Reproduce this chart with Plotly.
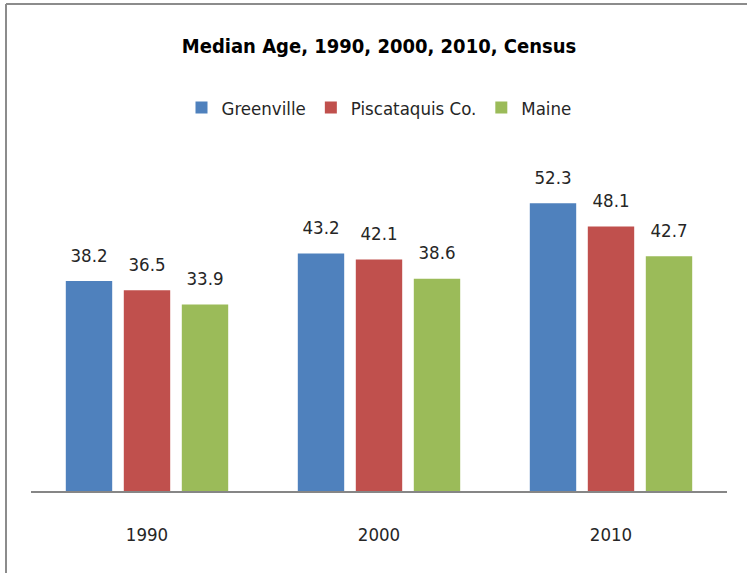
import plotly.graph_objects as go

years = ["1990", "2000", "2010"]
greenville = [38.2, 43.2, 52.3]
piscataquis = [36.5, 42.1, 48.1]
maine = [33.9, 38.6, 42.7]
series_names = ["Greenville", "Piscataquis Co.", "Maine"]
colors = ["#4F81BD", "#C0504D", "#9BBB59"]

FONT = "DejaVu Sans Condensed, Liberation Sans Narrow, sans-serif"

W, H = 747, 573
ML, MR, MT, MB = 31, 20, 150, 82
pw = W - ML - MR
ph = H - MT - MB

fig = go.Figure()
for i, (name, vals, c) in enumerate(zip(series_names, [greenville, piscataquis, maine], colors)):
    fig.add_trace(go.Bar(
        x=years, y=vals, name=name,
        marker=dict(color=c, line=dict(width=0)),
        offsetgroup=str(i),
        hoverinfo="skip",
    ))
for i, (name, vals) in enumerate(zip(series_names, [greenville, piscataquis, maine])):
    fig.add_trace(go.Scatter(
        x=years, y=vals, mode="text+markers",
        marker=dict(size=22, opacity=0),
        text=[f"{v:.1f}" for v in vals],
        textposition="top center",
        textfont=dict(family=FONT, size=18.5, color="#262626"),
        offsetgroup=str(i), showlegend=False, cliponaxis=False,
        hoverinfo="skip",
    ))

def px_x(p):
    return (p - ML) / pw

def px_y(p):
    return (H - MB - p) / ph

fig.update_layout(
    width=W, height=H,
    margin=dict(l=ML, r=MR, t=MT, b=MB),
    paper_bgcolor="white", plot_bgcolor="white",
    barmode="group", bargap=0.25, bargroupgap=0.2,
    scattermode="group", scattergap=0.25,
    title=dict(text="<b>Median Age, 1990, 2000, 2010, Census</b>",
               x=px_x(379), xanchor="center", xref="paper",
               y=1 - 46 / H, yanchor="middle",
               font=dict(family=FONT, size=20, color="#000000")),
    legend=dict(orientation="h", x=0.5, xanchor="center",
                y=px_y(108), yanchor="middle",
                font=dict(family=FONT, size=18.5, color="#262626"),
                traceorder="normal"),
    xaxis=dict(showline=True, linecolor="#868686", linewidth=1.5,
               ticks="", showgrid=False, ticklabelstandoff=26,
               tickfont=dict(family=FONT, size=18.5, color="#262626")),
    yaxis=dict(range=[0, ph / 5.5], visible=False, showgrid=False),
    shapes=[
        dict(type="line", xref="paper", yref="paper",
             x0=px_x(6), x1=px_x(W + 5), y0=px_y(4), y1=px_y(4),
             line=dict(color="#8C8C8C", width=2)),
        dict(type="line", xref="paper", yref="paper",
             x0=px_x(6), x1=px_x(6), y0=px_y(4), y1=px_y(H + 5),
             line=dict(color="#8C8C8C", width=2)),
    ],
)

fig.write_html("out.html", config={"displayModeBar": False},
               post_script="document.body.style.margin='0';")
